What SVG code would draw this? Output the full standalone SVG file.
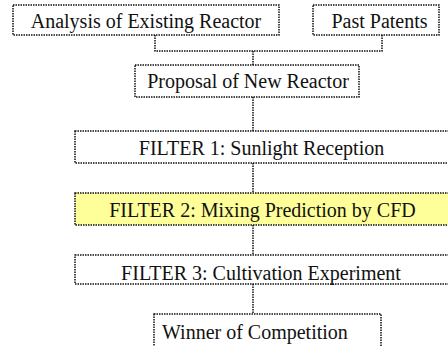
<svg xmlns="http://www.w3.org/2000/svg" width="448" height="346" viewBox="0 0 448 346">
<style>
.box{fill:#fff;stroke:#111;stroke-width:1.5;stroke-dasharray:1.5 1}
.hl{fill:#ffff99}
.con{fill:none;stroke:#111;stroke-width:1.5;stroke-dasharray:1.5 1}
text{font-size:20px;fill:#111}
.c{text-anchor:middle}
</style>
<g id="connectors">
<polyline class="con" points="155,35 155,51 382,51 382,35"/>
<line class="con" x1="253" y1="51" x2="253" y2="65"/>
<line class="con" x1="253" y1="97" x2="253" y2="131"/>
<line class="con" x1="253" y1="163" x2="253" y2="193"/>
<line class="con" x1="253" y1="225" x2="253" y2="255"/>
<line class="con" x1="253" y1="284" x2="253" y2="314"/>
</g>
<g font-family="'Liberation Serif', 'Times New Roman', serif">
<g id="analysis"><rect class="box" x="13" y="5" width="266" height="30"/><text class="c" x="146" y="28">Analysis of Existing Reactor</text></g>
<g id="patents"><rect class="box" x="313" y="5" width="126" height="30"/><text class="c" x="379.5" y="28">Past Patents</text></g>
<g id="proposal"><rect class="box" x="135" y="65" width="224" height="32"/><text class="c" x="248" y="88">Proposal of New Reactor</text></g>
<g id="filter1"><rect class="box" x="75" y="131" width="375" height="32"/><text class="c" x="261.5" y="155">FILTER 1: Sunlight Reception</text></g>
<g id="filter2"><rect class="box hl" x="75" y="193" width="375" height="32"/><text class="c" x="262.5" y="217">FILTER 2: Mixing Prediction by CFD</text></g>
<g id="filter3"><rect class="box" x="75" y="255" width="375" height="29"/><text class="c" x="261" y="280">FILTER 3: Cultivation Experiment</text></g>
<g id="winner"><rect class="box" x="154" y="314" width="227" height="40"/><text x="162" y="339">Winner of Competition</text></g>
</g>
</svg>
